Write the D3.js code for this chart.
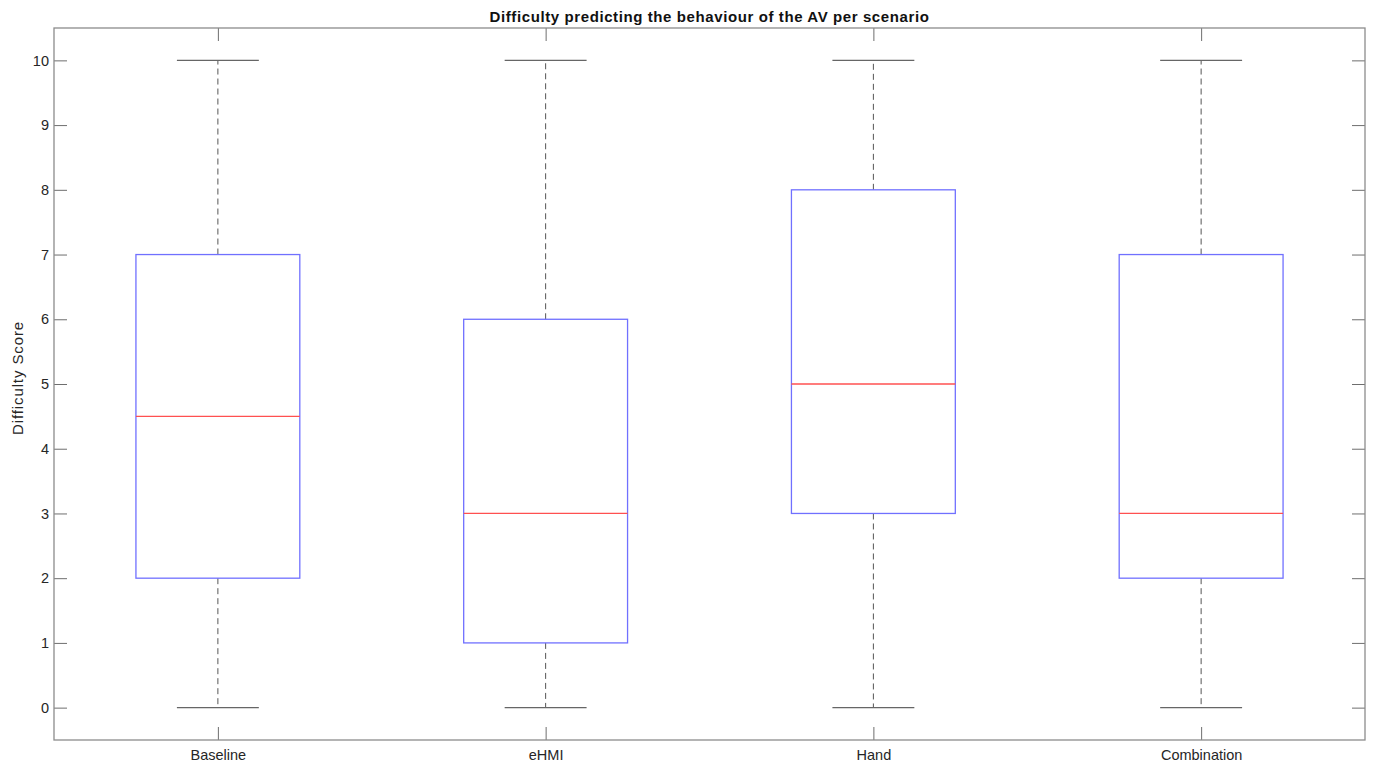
<!DOCTYPE html>
<html>
<head>
<meta charset="utf-8">
<script src="https://cdn.jsdelivr.net/npm/d3@7"></script>
<style>
  html, body { margin: 0; padding: 0; background: #fff; }
  svg { display: block; font-family: "Liberation Sans", Arial, sans-serif; }
</style>
</head>
<body>
<svg id="chart" width="1373" height="767"></svg>
<script>
// Scenario categories and their box-plot statistics
const categories = ["Baseline", "eHMI", "Hand", "Combination"];
const whiskerLow = [0, 0, 0, 0];
const quartile1 = [2, 1, 3, 2];
const medians = [4.5, 3, 5, 3];
const quartile3 = [7, 6, 8, 7];
const whiskerHigh = [10, 10, 10, 10];
const yTicks = [0, 1, 2, 3, 4, 5, 6, 7, 8, 9, 10];

const svg = d3.select("#chart");
const plotLeft = 54, plotRight = 1365, plotTop = 28, plotBottom = 740;

const x = d3.scaleLinear().domain([0.5, categories.length + 0.5]).range([plotLeft, plotRight]);
const y = d3.scaleLinear().domain([-0.5, 10.5]).range([plotBottom, plotTop]);

const frameColor = "#8c8c8c";
const textColor = "#262626";
const tickLen = 13;

// Axes: ticks pointing inward on all four sides
const yAxisL = d3.axisLeft(y).tickValues(yTicks).tickSizeInner(-tickLen).tickSizeOuter(0).tickPadding(5);
const yAxisR = d3.axisRight(y).tickValues(yTicks).tickSizeInner(-tickLen).tickSizeOuter(0).tickFormat("");
const xTicks = categories.map((d, i) => i + 1);
const xAxisB = d3.axisBottom(x).tickValues(xTicks).tickSizeInner(-tickLen).tickSizeOuter(0)
  .tickPadding(10).tickFormat((d) => categories[d - 1]);
const xAxisT = d3.axisTop(x).tickValues(xTicks).tickSizeInner(-tickLen).tickSizeOuter(0).tickFormat("");

function styleAxis(g) {
  g.select(".domain").remove();
  g.selectAll(".tick line").attr("stroke", "#6e6e6e").attr("stroke-width", 1);
  g.selectAll(".tick text").attr("fill", textColor).attr("font-size", 14.5)
    .attr("font-family", "'Liberation Sans', Arial, sans-serif");
}

svg.append("g").attr("transform", `translate(${plotLeft},0)`).call(yAxisL).call(styleAxis);
svg.append("g").attr("transform", `translate(${plotRight},0)`).call(yAxisR).call(styleAxis);
svg.append("g").attr("transform", `translate(0,${plotBottom})`).call(xAxisB).call(styleAxis);
svg.append("g").attr("transform", `translate(0,${plotTop})`).call(xAxisT).call(styleAxis);

// Plot frame
svg.append("rect")
  .attr("x", plotLeft).attr("y", plotTop)
  .attr("width", plotRight - plotLeft).attr("height", plotBottom - plotTop)
  .attr("fill", "none").attr("stroke", frameColor).attr("stroke-width", 1.3);

const boxHalf = 0.25, capHalf = 0.125;
const groups = svg.append("g").selectAll("g").data(categories).join("g");

// Dashed whiskers
groups.append("line")
  .attr("x1", (d, i) => x(i + 1)).attr("x2", (d, i) => x(i + 1))
  .attr("y1", (d, i) => y(quartile3[i])).attr("y2", (d, i) => y(whiskerHigh[i]))
  .attr("stroke", "#555").attr("stroke-dasharray", "6,4");
groups.append("line")
  .attr("x1", (d, i) => x(i + 1)).attr("x2", (d, i) => x(i + 1))
  .attr("y1", (d, i) => y(quartile1[i])).attr("y2", (d, i) => y(whiskerLow[i]))
  .attr("stroke", "#555").attr("stroke-dasharray", "6,4");

// Whisker caps
[whiskerHigh, whiskerLow].forEach((arr) => {
  groups.append("line")
    .attr("x1", (d, i) => x(i + 1 - capHalf)).attr("x2", (d, i) => x(i + 1 + capHalf))
    .attr("y1", (d, i) => y(arr[i])).attr("y2", (d, i) => y(arr[i]))
    .attr("stroke", "#666").attr("stroke-width", 1.2);
});

// Boxes
groups.append("rect")
  .attr("x", (d, i) => x(i + 1 - boxHalf))
  .attr("width", (d, i) => x(i + 1 + boxHalf) - x(i + 1 - boxHalf))
  .attr("y", (d, i) => y(quartile3[i]))
  .attr("height", (d, i) => y(quartile1[i]) - y(quartile3[i]))
  .attr("fill", "none").attr("stroke", "#7070ff").attr("stroke-width", 1.3);

// Medians
groups.append("line")
  .attr("x1", (d, i) => x(i + 1 - boxHalf)).attr("x2", (d, i) => x(i + 1 + boxHalf))
  .attr("y1", (d, i) => y(medians[i])).attr("y2", (d, i) => y(medians[i]))
  .attr("stroke", "#ff5050").attr("stroke-width", 1.3);

// Title and axis label
svg.append("text")
  .attr("x", (plotLeft + plotRight) / 2).attr("y", 22)
  .attr("text-anchor", "middle").attr("font-size", 15).attr("font-weight", "bold")
  .attr("letter-spacing", 0.6).attr("fill", "#111")
  .text("Difficulty predicting the behaviour of the AV per scenario");

svg.append("text")
  .attr("transform", "translate(23,378) rotate(-90)")
  .attr("text-anchor", "middle").attr("font-size", 15).attr("letter-spacing", 0.9)
  .attr("fill", textColor)
  .text("Difficulty Score");
</script>
</body>
</html>
